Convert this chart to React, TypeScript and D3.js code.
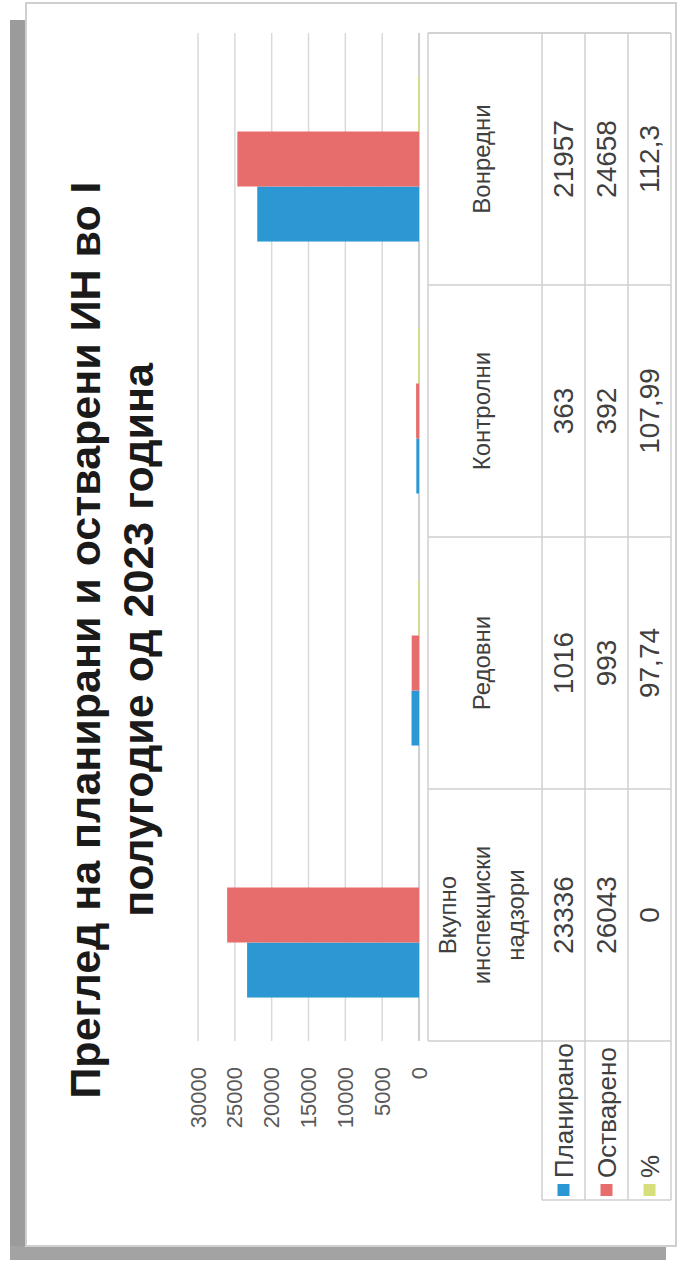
import * as d3 from "d3";

// ── Data ──────────────────────────────────────────────────────────────────────

const TITLE_LINES = ["Преглед на планирани и остварени ИН во I", "полугодие од 2023 година"];
const CATEGORIES = ["Вкупно инспекциски надзори", "Редовни", "Контролни", "Вонредни"];
const CATEGORY_LINES = [["Вкупно", "инспекциски", "надзори"], ["Редовни"], ["Контролни"], ["Вонредни"]];
const SERIES = ["Планирано", "Остварено", "%"];
const PLANNED = [23336, 1016, 363, 21957];
const ACHIEVED = [26043, 993, 392, 24658];
const PERCENT = [0, 97.74, 107.99, 112.3];
const PERCENT_LABELS = ["0", "97,74", "107,99", "112,3"];
const VALUE_TICKS = [0, 5000, 10000, 15000, 20000, 25000, 30000];

// ── Layout (chart is drawn turned a quarter-turn counter-clockwise) ──────────

const W = 683;
const H = 1267;
const PLOT_TOP = 33;
const PLOT_BOTTOM = 1041;
const ZERO_X = 419;
const MAX_X = 198;
const TABLE_ROWS = [428, 542, 585, 628, 671];
const LEGEND_END = 1200;
const COLORS = ["#2b98d3", "#e76d6c", "#d6df7c"];
const FONT = "'Liberation Sans', Arial, sans-serif";

export default function App() {
  const x = d3.scaleLinear().domain([0, 30000]).range([ZERO_X, MAX_X]);
  const yCat = d3.scaleBand().domain(CATEGORIES).range([PLOT_BOTTOM, PLOT_TOP]).paddingInner(0);
  const ySer = d3
    .scaleBand()
    .domain(SERIES)
    .range([yCat.bandwidth(), 0])
    .paddingInner(0)
    .paddingOuter(0.79);

  const values = [PLANNED, ACHIEVED, PERCENT];
  const rowText = [
    PLANNED.map((v) => String(v)),
    ACHIEVED.map((v) => String(v)),
    PERCENT_LABELS,
  ];
  const rowCenter = (i: number) => (TABLE_ROWS[i + 1] + TABLE_ROWS[i + 2]) / 2;
  const headerCenter = (TABLE_ROWS[0] + TABLE_ROWS[1]) / 2 - 4;

  const boundaries = CATEGORIES.map((c) => yCat(c) as number).concat([PLOT_TOP]);

  return (
    <svg
      width={W}
      height={H}
      viewBox={`0 0 ${W} ${H}`}
      style={{ position: "absolute", left: 0, top: 0, background: "#fff" }}
      fontFamily={FONT}
    >
      {/* Frame with shadow */}
      <rect x={10} y={20} width={16} height={1240} fill="#9b9b9b" />
      <rect x={10} y={1246} width={656} height={14} fill="#a3a3a3" />
      <rect x={26} y={3} width={650} height={1243} fill="#fff" stroke="#cfcfcf" strokeWidth={2} />

      {/* Title */}
      {TITLE_LINES.map((t, i) => (
        <text
          key={t}
          transform={`translate(${100 + i * 53},640) rotate(-90)`}
          textAnchor="middle"
          fontSize={43}
          fontWeight="bold"
          fill="#1a1a1a"
        >
          {t}
        </text>
      ))}

      {/* Grid lines */}
      {VALUE_TICKS.map((t) => (
        <line
          key={t}
          x1={x(t)}
          x2={x(t)}
          y1={PLOT_TOP}
          y2={PLOT_BOTTOM}
          stroke={t === 0 ? "#bfbfbf" : "#d9d9d9"}
          strokeWidth={1.5}
        />
      ))}

      {/* Value axis labels */}
      {VALUE_TICKS.map((t) => (
        <text
          key={t}
          transform={`translate(${x(t)},1067) rotate(-90)`}
          textAnchor="end"
          dominantBaseline="central"
          fontSize={22}
          fill="#595959"
        >
          {t}
        </text>
      ))}

      {/* Bars */}
      {values.map((series, si) =>
        series.map((v, ci) => {
          const y0 = (yCat(CATEGORIES[ci]) as number) + (ySer(SERIES[si]) as number);
          return (
            <rect
              key={`${si}-${ci}`}
              x={x(v)}
              y={y0}
              width={ZERO_X - x(v)}
              height={ySer.bandwidth()}
              fill={COLORS[si]}
            />
          );
        })
      )}

      {/* Data table lines */}
      {boundaries.map((b, i) => (
        <line key={`b${i}`} x1={TABLE_ROWS[0]} x2={TABLE_ROWS[4]} y1={b + yCat.bandwidth() * (i < 4 ? 1 : 0)} y2={b + yCat.bandwidth() * (i < 4 ? 1 : 0)} stroke="#cfcfcf" strokeWidth={1.5} />
      ))}
      <line x1={TABLE_ROWS[0]} x2={TABLE_ROWS[4]} y1={PLOT_TOP} y2={PLOT_TOP} stroke="#cfcfcf" strokeWidth={1.5} />
      <line x1={TABLE_ROWS[0]} x2={TABLE_ROWS[0]} y1={PLOT_TOP} y2={PLOT_BOTTOM} stroke="#cfcfcf" strokeWidth={1.5} />
      {TABLE_ROWS.slice(1).map((r) => (
        <line key={r} x1={r} x2={r} y1={PLOT_TOP} y2={LEGEND_END} stroke="#cfcfcf" strokeWidth={1.5} />
      ))}
      <line x1={TABLE_ROWS[1]} x2={TABLE_ROWS[4]} y1={LEGEND_END} y2={LEGEND_END} stroke="#cfcfcf" strokeWidth={1.5} />

      {/* Category labels */}
      {CATEGORIES.map((c, ci) => {
        const cy = (yCat(c) as number) + yCat.bandwidth() / 2;
        const lines = CATEGORY_LINES[ci];
        return lines.map((ln, li) => (
          <text
            key={`${c}-${li}`}
            transform={`translate(${headerCenter + (li - (lines.length - 1) / 2) * 34},${cy}) rotate(-90)`}
            textAnchor="middle"
            dominantBaseline="central"
            fontSize={24}
            fill="#404040"
          >
            {ln}
          </text>
        ));
      })}

      {/* Table values */}
      {rowText.map((row, si) =>
        row.map((t, ci) => (
          <text
            key={`${si}-${ci}`}
            transform={`translate(${rowCenter(si)},${(yCat(CATEGORIES[ci]) as number) + yCat.bandwidth() / 2}) rotate(-90)`}
            textAnchor="middle"
            dominantBaseline="central"
            fontSize={28}
            fill="#404040"
          >
            {t}
          </text>
        ))
      )}

      {/* Legend keys */}
      {SERIES.map((s, si) => (
        <g key={s}>
          <rect x={rowCenter(si) - 6} y={1184} width={12} height={12} fill={COLORS[si]} />
          <text
            transform={`translate(${rowCenter(si)},1178) rotate(-90)`}
            dominantBaseline="central"
            fontSize={26}
            fill="#404040"
          >
            {s}
          </text>
        </g>
      ))}
    </svg>
  );
}
